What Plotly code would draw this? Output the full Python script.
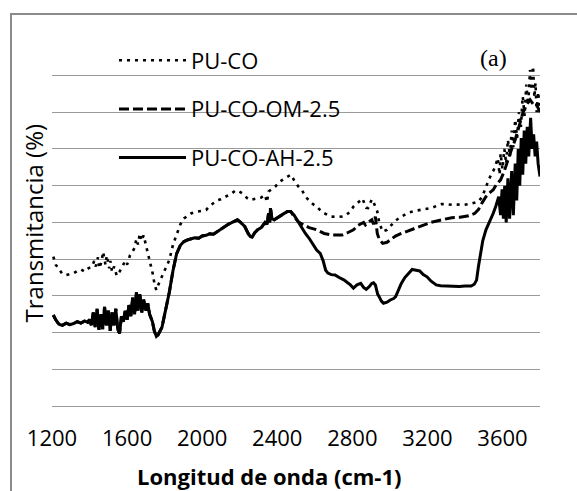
import plotly.graph_objects as go

# ---------------- data ----------------
# PU-CO-AH-2.5 (solid)
ah_x = [1207, 1220, 1237, 1255, 1276, 1295, 1315, 1335, 1354, 1374, 1390, 1400, 1410, 1420, 1430, 1440,
        1450, 1460, 1470, 1480, 1490, 1500, 1510, 1520, 1530, 1540, 1550, 1560, 1570, 1580, 1590, 1600,
        1610, 1620, 1630, 1640, 1650, 1658, 1668, 1678, 1688, 1700, 1710, 1720, 1735, 1745, 1756, 1766,
        1786, 1805, 1825, 1845, 1864, 1884, 1903, 1925, 1943, 1960, 1982, 2000, 2021, 2040, 2060, 2080,
        2099, 2119, 2139, 2160, 2178, 2188, 2205, 2227, 2245, 2256, 2266, 2280, 2296, 2315, 2335, 2345,
        2354, 2360, 2364, 2372, 2384, 2400, 2413, 2435, 2455, 2472, 2490, 2512, 2531, 2550, 2570, 2590,
        2610, 2629, 2645, 2658, 2670, 2688, 2708, 2730, 2757, 2775, 2790, 2806, 2825, 2845, 2860, 2874,
        2890, 2904, 2913, 2923, 2935, 2943, 2955, 2966, 2985, 3002, 3020, 3031, 3045, 3061, 3080, 3100,
        3119, 3140, 3159, 3178, 3198, 3220, 3247, 3270, 3296, 3330, 3370, 3400, 3433, 3450, 3462, 3472,
        3482, 3495, 3512, 3530, 3551, 3565, 3580, 3590, 3598, 3605, 3612, 3620, 3629, 3638, 3649, 3658,
        3668, 3676, 3684, 3692, 3700, 3708, 3716, 3724, 3732, 3740, 3750, 3758, 3766, 3774, 3782, 3790,
        3800]
ah_y = [24.8, 23.5, 22.3, 22.0, 22.6, 22.2, 22.5, 23.0, 22.6, 23.2, 22.8, 23.6, 22.0, 25.5, 21.5, 26.5,
        20.8, 25.0, 21.0, 27.0, 22.0, 26.0, 20.5, 25.5, 22.0, 26.5, 21.0, 19.8, 24.5, 23.0, 26.0, 23.5,
        27.5, 24.5, 29.5, 25.0, 31.0, 26.0, 30.5, 25.5, 29.0, 26.0, 28.0, 25.0, 23.0, 20.5, 19.0, 19.5,
        21.5, 26.0, 31.0, 37.0, 41.5, 43.8, 44.8, 45.3, 45.5, 45.8, 45.7, 46.3, 46.5, 46.9, 46.8, 47.5,
        48.2, 48.9, 49.5, 50.0, 50.5, 50.7, 50.0, 48.9, 47.0, 46.2, 46.0, 47.2, 48.0, 48.6, 50.0, 49.5,
        52.5, 50.0, 53.9, 51.0, 50.7, 51.3, 51.8, 52.4, 53.0, 53.0, 52.0, 50.2, 48.3, 47.0, 45.7, 44.0,
        42.5, 41.6, 39.5, 37.0, 36.2, 35.8, 35.7, 35.0, 34.3, 33.6, 33.0, 32.1, 33.0, 33.4, 32.3, 31.8,
        32.5, 33.4, 33.6, 33.0, 30.5, 29.8, 28.6, 28.0, 28.3, 28.9, 29.3, 29.8, 31.5, 33.4, 35.0, 36.1,
        37.2, 37.0, 36.8, 35.8, 35.2, 34.0, 33.0, 32.8, 32.7, 32.7, 32.6, 32.7, 32.7, 33.2, 34.3, 38.0,
        41.6, 45.0, 48.0, 50.0, 52.5, 54.5, 57.0, 52.0, 59.0, 51.0, 60.0, 50.0, 62.0, 51.0, 64.0, 52.0,
        66.0, 56.0, 70.0, 60.0, 73.0, 63.0, 75.0, 66.0, 76.0, 68.0, 78.5, 70.0, 74.0, 68.0, 72.0, 66.0,
        62.5]

# PU-CO-OM-2.5 (dashed) - follows the AH curve up to ~2470 cm-1
om_x = ah_x[:90] + [2490, 2512, 2531, 2570, 2610, 2650, 2688, 2720, 2747, 2775, 2806, 2830, 2845, 2860,
                    2870, 2884, 2904, 2913, 2923, 2933, 2943, 2962, 2985, 3002, 3030, 3061, 3100, 3139,
                    3178, 3217, 3276, 3330, 3374, 3420, 3453, 3472, 3492, 3512, 3530, 3551, 3570, 3590,
                    3610, 3629, 3649, 3668, 3688, 3708, 3727, 3747, 3766, 3786, 3800]
om_y = ah_y[:90] + [51.5, 50.2, 49.6, 48.6, 48.0, 47.0, 46.6, 46.5, 46.6, 47.2, 48.0, 49.2, 49.6, 50.0,
                    49.3, 50.0, 50.7, 49.5, 51.6, 47.0, 45.5, 44.3, 44.6, 45.2, 46.3, 47.0, 47.8, 48.6,
                    49.4, 50.0, 50.7, 51.3, 51.4, 51.8, 52.5, 53.5, 55.4, 57.0, 58.0, 58.9, 60.5, 61.6,
                    64.0, 67.0, 70.0, 72.5, 76.0, 79.7, 82.0, 83.4, 82.0, 81.6, 80.0]

# PU-CO (dotted)
co_x = [1207, 1220, 1237, 1255, 1276, 1295, 1315, 1335, 1354, 1374, 1394, 1413, 1425, 1433, 1445, 1452,
        1465, 1472, 1485, 1492, 1505, 1511, 1520, 1531, 1545, 1560, 1575, 1590, 1600, 1615, 1629, 1639,
        1650, 1658, 1668, 1678, 1688, 1700, 1710, 1720, 1737, 1747, 1756, 1766, 1786, 1805, 1825, 1845,
        1864, 1884, 1903, 1925, 1943, 1960, 1982, 2000, 2021, 2040, 2060, 2080, 2099, 2119, 2139, 2160,
        2178, 2195, 2217, 2240, 2256, 2275, 2296, 2315, 2335, 2345, 2354, 2370, 2390, 2413, 2440, 2460,
        2472, 2490, 2512, 2531, 2550, 2570, 2590, 2610, 2640, 2670, 2688, 2720, 2747, 2767, 2790, 2806,
        2825, 2845, 2855, 2865, 2874, 2884, 2895, 2904, 2913, 2923, 2933, 2943, 2962, 2985, 3002, 3030,
        3061, 3100, 3139, 3178, 3217, 3250, 3276, 3296, 3330, 3374, 3394, 3433, 3460, 3472, 3492, 3512,
        3530, 3551, 3561, 3575, 3585, 3590, 3600, 3610, 3620, 3629, 3640, 3649, 3658, 3668, 3678, 3688,
        3698, 3708, 3718, 3727, 3737, 3747, 3755, 3763, 3770, 3776, 3782, 3790, 3800]
co_y = [40.7, 38.5, 37.3, 36.0, 35.7, 35.9, 36.2, 36.8, 37.2, 36.6, 37.5, 38.0, 39.5, 38.0, 40.5, 37.5,
        39.5, 42.0, 38.5, 41.0, 37.5, 39.5, 36.5, 38.0, 35.5, 36.6, 38.0, 39.5, 38.5, 41.0, 42.0, 43.0,
        45.5, 44.0, 47.0, 45.0, 46.5, 44.0, 41.5, 40.0, 36.0, 33.0, 31.6, 33.0, 35.2, 37.5, 39.8, 44.0,
        47.0, 49.5, 51.1, 52.0, 52.5, 52.8, 53.0, 53.2, 53.4, 54.5, 55.3, 56.0, 56.3, 56.8, 57.5, 58.0,
        58.7, 58.5, 57.8, 56.6, 56.1, 56.3, 56.6, 56.8, 57.5, 55.5, 58.4, 59.0, 59.8, 61.1, 62.0, 62.6,
        63.0, 61.5, 59.8, 58.9, 57.0, 56.0, 55.0, 54.3, 52.8, 52.0, 51.6, 51.5, 51.6, 52.0, 53.0, 54.3,
        55.2, 56.1, 56.5, 55.0, 54.0, 53.9, 55.5, 56.3, 55.5, 54.0, 53.0, 50.0, 47.5, 48.0, 48.9, 50.5,
        51.6, 52.7, 53.2, 53.6, 53.9, 54.5, 55.0, 55.0, 54.8, 54.9, 54.8, 55.1, 55.5, 55.7, 57.0, 59.8,
        62.0, 64.0, 65.2, 67.5, 63.0, 68.8, 64.5, 70.0, 66.0, 72.5, 68.0, 75.0, 70.5, 78.0, 73.0, 80.0,
        76.0, 84.3, 79.0, 87.5, 82.0, 91.5, 86.0, 92.5, 84.0, 88.0, 80.0, 85.5, 80.7]

x_ticks = [1200, 1600, 2000, 2400, 2800, 3200, 3600]
names = ["PU-CO", "PU-CO-OM-2.5", "PU-CO-AH-2.5"]

# ---------------- figure ----------------
FONT = "Open Sans"
fig = go.Figure()
fig.add_trace(go.Scatter(x=co_x, y=co_y, mode="lines", name=names[0], legendgroup="a",
                         line=dict(color="black", width=2.6, dash="3px,5px")))
fig.add_trace(go.Scatter(x=om_x, y=om_y, mode="lines", name=names[1], legendgroup="b",
                         line=dict(color="black", width=3, dash="10px,4px")))
fig.add_trace(go.Scatter(x=ah_x, y=ah_y, mode="lines", name=names[2], legendgroup="c",
                         line=dict(color="black", width=3)))

fig.update_layout(
    width=577, height=491,
    margin=dict(l=52, r=37, t=38, b=83),
    paper_bgcolor="white", plot_bgcolor="white",
    font=dict(family=FONT, size=22, color="black"),
    showlegend=True,
    legend=dict(x=0.127, y=0.996, xanchor="left", yanchor="top",
                bgcolor="rgba(0,0,0,0)", borderwidth=0, itemwidth=67,
                tracegroupgap=17, font=dict(family=FONT, size=22, color="black")),
    xaxis=dict(range=[1200, 3800], tickmode="array", tickvals=x_ticks,
               ticktext=[str(v) for v in x_ticks], showgrid=False, zeroline=False,
               showline=False, ticks="", ticklabelstandoff=15,
               tickfont=dict(family=FONT, size=22, color="black")),
    yaxis=dict(range=[-0.5, 100.2], dtick=10, tick0=0, showgrid=True, gridcolor="#9a9a9a",
               gridwidth=1, zeroline=False, showline=False, showticklabels=False, ticks=""),
    annotations=[
        dict(text="<b>Longitud de onda (cm-1)</b>", xref="paper", yref="paper",
             x=0.4437, y=-0.1838, xanchor="center", yanchor="middle", showarrow=False,
             font=dict(family=FONT, size=22, color="black")),
        dict(text="Transmitancia (%)", xref="paper", yref="paper", textangle=-90,
             x=-0.037, y=0.5014, xanchor="center", yanchor="middle", showarrow=False,
             font=dict(family=FONT, size=24, color="black")),
        dict(text="(a)", xref="paper", yref="paper", x=0.9037, y=0.9459,
             xanchor="center", yanchor="middle", showarrow=False,
             font=dict(family="Liberation Serif", size=24, color="black")),
    ],
    shapes=[
        dict(type="rect", xref="paper", yref="paper", x0=-0.084, y0=-0.26, x1=1.1, y1=1.065,
             line=dict(color="#8a8a8a", width=2), fillcolor="rgba(0,0,0,0)", layer="below"),
    ],
)

fig.write_html("out.html")
